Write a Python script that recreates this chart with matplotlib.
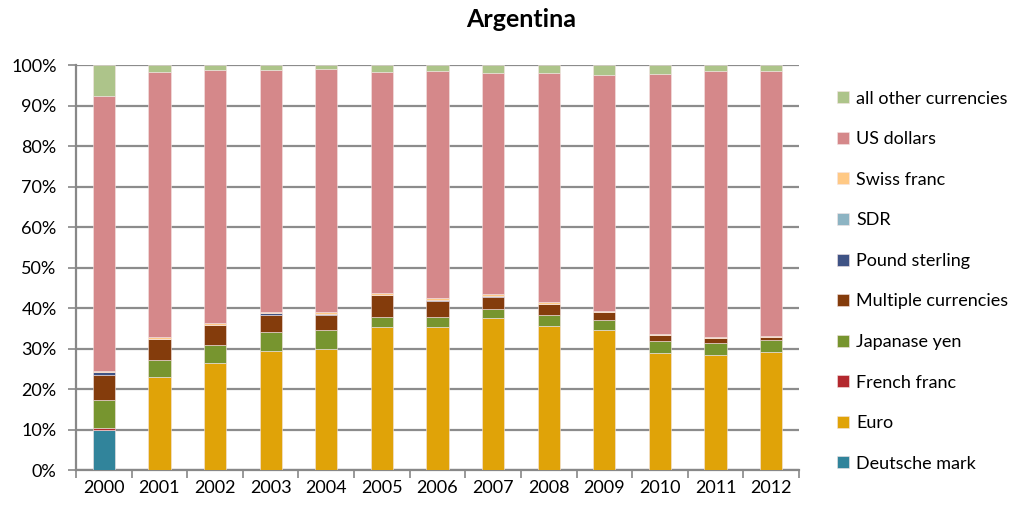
import matplotlib.pyplot as plt
import numpy as np

plt.rcParams['font.family'] = ['Lato', 'DejaVu Sans']

years = ['2000', '2001', '2002', '2003', '2004', '2005', '2006',
         '2007', '2008', '2009', '2010', '2011', '2012']

# currency shares in percent, bottom to top of each stack
deutsche_mark = [10.0, 0, 0, 0, 0, 0, 0, 0, 0, 0, 0, 0, 0]
euro = [0, 22.9, 26.5, 29.5, 30.0, 35.2, 35.4, 37.6, 35.6, 34.6, 29.0, 28.4, 29.2]
french_franc = [0.4, 0, 0, 0, 0, 0, 0, 0, 0, 0, 0, 0, 0]
japanese_yen = [6.9, 4.3, 4.4, 4.7, 4.6, 2.7, 2.5, 2.2, 2.7, 2.4, 2.9, 3.0, 2.8]
multiple = [6.1, 5.1, 4.8, 4.1, 3.7, 5.3, 3.9, 3.0, 2.6, 1.9, 1.4, 1.1, 0.8]
pound_sterling = [0.7, 0.1, 0.2, 0.4, 0.2, 0.1, 0.1, 0.1, 0.1, 0.1, 0.1, 0.1, 0.1]
sdr = [0.1, 0, 0, 0, 0, 0, 0, 0, 0, 0, 0, 0, 0]
swiss_franc = [0.3, 0.4, 0.5, 0.3, 0.4, 0.3, 0.5, 0.5, 0.4, 0.3, 0.3, 0.2, 0.3]
us_dollars = [67.8, 65.6, 62.4, 59.9, 60.1, 54.8, 56.2, 54.7, 56.7, 58.3, 64.1, 65.8, 65.4]
other = [7.7, 1.6, 1.2, 1.1, 1.0, 1.6, 1.4, 1.9, 1.9, 2.4, 2.2, 1.4, 1.4]

series = [
    ('Deutsche mark', deutsche_mark, '#31849B'),
    ('Euro', euro, '#E0A308'),
    ('French franc', french_franc, '#B3282E'),
    ('Japanase yen', japanese_yen, '#77952F'),
    ('Multiple currencies', multiple, '#843C0C'),
    ('Pound sterling', pound_sterling, '#3F5385'),
    ('SDR', sdr, '#8DB4C3'),
    ('Swiss franc', swiss_franc, '#FFC985'),
    ('US dollars', us_dollars, '#D5888A'),
    ('all other currencies', other, '#ADC48A'),
]

fig = plt.figure(figsize=(10.27, 5.09), dpi=100)
ax = fig.add_axes([0.074, 0.0766, 0.704, 0.7956])

x = np.arange(len(years))
bottom = np.zeros(len(years))
handles = []
for name, vals, color in series:
    vals = np.array(vals, dtype=float)
    b = ax.bar(x, vals, 0.4, bottom=bottom, color=color, label=name,
               edgecolor='#f4e4e4', linewidth=0.4, zorder=3)
    handles.append(b)
    bottom += vals

ax.set_xlim(-0.5, len(years) - 0.5)
ax.set_ylim(0, 100)
ax.set_yticks(np.arange(0, 101, 10))
ax.set_yticklabels([f'{v}%' for v in range(0, 101, 10)], fontsize=13)
ax.set_xticks(x)
ax.set_xticklabels(years, fontsize=13)
ax.set_xticks(np.arange(-0.5, len(years), 1), minor=True)
ax.tick_params(axis='x', which='major', length=0, pad=7)
ax.tick_params(axis='x', which='minor', length=6, color='#888888', width=1.2)
ax.tick_params(axis='y', length=6, color='#888888', width=1.2, pad=8)

ax.grid(axis='y', color='#8c8c8c', linewidth=1.6, zorder=0)
for side in ['top', 'right']:
    ax.spines[side].set_visible(False)
for side in ['left', 'bottom']:
    ax.spines[side].set_color('#888888')
    ax.spines[side].set_linewidth(1.6)

fig.text(0.507, 0.962, 'Argentina', ha='center', va='center',
         fontsize=18, fontweight='bold')

fig.legend(handles[::-1], [s[0] for s in series][::-1],
           loc='upper left', bbox_to_anchor=(0.808, 0.836),
           frameon=False, fontsize=13, handlelength=0.65, handleheight=0.65,
           handletextpad=0.4, labelspacing=1.36, borderaxespad=0)

fig.savefig('out.png', dpi=100)
